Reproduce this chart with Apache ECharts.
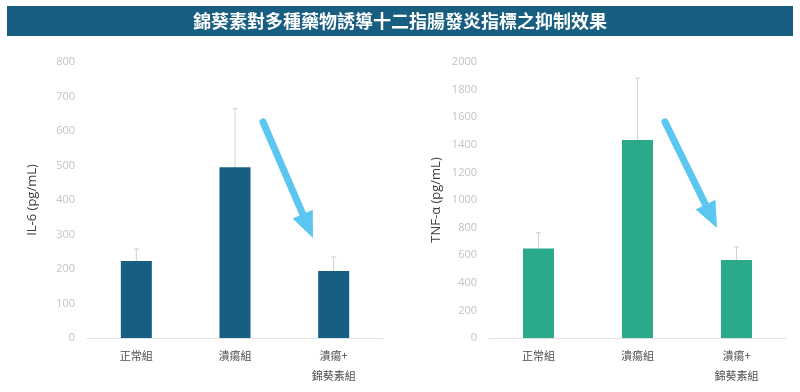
<!DOCTYPE html>
<html><head><meta charset="utf-8">
<script src="https://cdn.jsdelivr.net/npm/echarts@6/dist/echarts.min.js"></script>
<style>html,body{margin:0;padding:0;background:#fff}#c{width:800px;height:392px}</style>
</head><body><div id="c"></div>
<script>
const title = '錦葵素對多種藥物誘導十二指腸發炎指標之抑制效果';
const categories = ['正常組', '潰瘍組', '潰瘍+\n錦葵素組'];
const il6Values = [223, 495, 194];
const il6ErrTop = [258, 665, 235];
const tnfValues = [649, 1435, 565];
const tnfErrTop = [763, 1884, 659];
const il6Ticks = {min: 0, max: 800, interval: 100};
const tnfTicks = {min: 0, max: 2000, interval: 200};

const chart = echarts.init(document.getElementById('c'), null, {renderer: 'canvas'});
const FONT = '"Noto Sans CJK TC","Noto Sans",sans-serif';
const NFONT = '"Open Sans","Noto Sans",sans-serif';

function errSeries(idx, vals, tops) {
  return {
    type: 'custom', xAxisIndex: idx, yAxisIndex: idx, z: 1,
    data: vals.map((v, i) => [i, v, tops[i]]),
    renderItem: function (params, api) {
      const lo = api.coord([api.value(0), api.value(1)]);
      const hi = api.coord([api.value(0), api.value(2)]);
      const st = {stroke: '#d0d0d0', lineWidth: 1};
      return {type: 'group', children: [
        {type: 'line', shape: {x1: lo[0], y1: lo[1], x2: hi[0], y2: hi[1]}, style: st},
        {type: 'line', shape: {x1: hi[0] - 2.5, y1: hi[1], x2: hi[0] + 2.5, y2: hi[1]}, style: st}
      ]};
    }
  };
}

function arrow(x1, y1, x2, y2) {
  const dx = x2 - x1, dy = y2 - y1, L = Math.sqrt(dx*dx + dy*dy);
  const ux = dx / L, uy = dy / L, px = -uy, py = ux;
  const hl = 26, hw = 11;
  const bx = x2 - ux * hl, by = y2 - uy * hl;
  const col = '#5bc6ef';
  return [
    {type: 'line', shape: {x1: x1, y1: y1, x2: bx + ux*2, y2: by + uy*2},
     style: {stroke: col, lineWidth: 7, lineCap: 'round'}, z: 10},
    {type: 'polygon', shape: {points: [[x2, y2], [bx + px*hw, by + py*hw], [bx - px*hw, by - py*hw]]},
     style: {fill: col}, z: 10}
  ];
}

function xAx(idx) {
  return {
    type: 'category', gridIndex: idx, data: categories,
    axisLine: {lineStyle: {color: '#e3e3e3'}}, axisTick: {show: false},
    axisLabel: {color: '#4d4d4d', fontSize: 11, fontFamily: FONT, lineHeight: 20, margin: 8}
  };
}
function yAx(idx, t, name, gap) {
  return {
    type: 'value', gridIndex: idx, min: t.min, max: t.max, interval: t.interval,
    name: name, nameLocation: 'middle', nameGap: gap,
    nameTextStyle: {color: '#404040', fontSize: 13, fontFamily: NFONT},
    axisLine: {show: false}, axisTick: {show: false}, splitLine: {show: false},
    axisLabel: {color: '#c3c3c3', fontSize: 11, fontFamily: NFONT, margin: 12,
      formatter: v => String(v)}
  };
}

chart.setOption({
  animation: false,
  grid: [
    {left: 87, right: 417, top: 62, bottom: 54},
    {left: 489, right: 14, top: 62, bottom: 54}
  ],
  xAxis: [xAx(0), xAx(1)],
  yAxis: [yAx(0, il6Ticks, 'IL-6 (pg/mL)', 48), yAx(1, tnfTicks, 'TNF-α (pg/mL)', 46)],
  graphic: [
    {type: 'rect', shape: {x: 7, y: 6, width: 786, height: 30}, style: {fill: '#185e81'}},
    {type: 'text', x: 400, y: 21, style: {text: title, fill: '#fff', fontSize: 18, fontWeight: 'bold',
      fontFamily: FONT, align: 'center', verticalAlign: 'middle'}},
    ...arrow(263, 122, 313, 238),
    ...arrow(665, 122, 717, 228)
  ],
  series: [
    errSeries(0, il6Values, il6ErrTop),
    {type: 'bar', xAxisIndex: 0, yAxisIndex: 0, data: il6Values, barWidth: 31, z: 2,
     itemStyle: {color: '#175f82'}},
    errSeries(1, tnfValues, tnfErrTop),
    {type: 'bar', xAxisIndex: 1, yAxisIndex: 1, data: tnfValues, barWidth: 31, z: 2,
     itemStyle: {color: '#2aaa8a'}}
  ]
});
</script></body></html>
